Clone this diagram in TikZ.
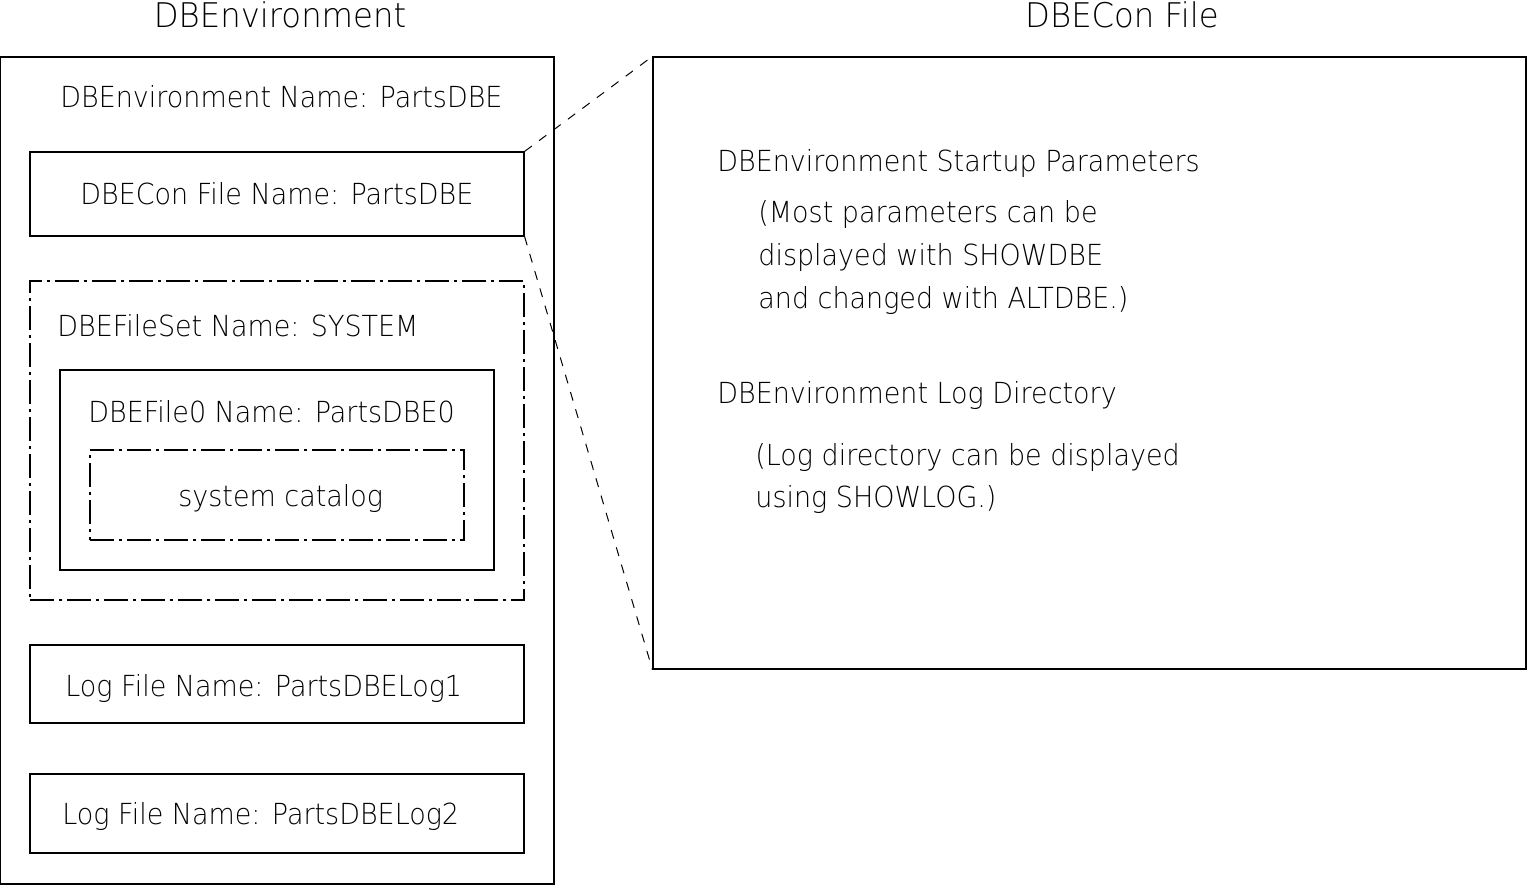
\documentclass[tikz,border=0pt]{standalone}
\usepackage{fontspec}
\newfontfamily\thinfont[FakeStretch=0.93]{DejaVu Sans ExtraLight}
\newfontfamily\titlefont[FakeStretch=0.95]{DejaVu Sans ExtraLight}
\begin{document}
\begin{tikzpicture}[x=0.5pt,y=-0.5pt,
  box/.style={draw=black,line width=0.6pt,inner sep=0pt},
  dashdot/.style={draw=black,line width=0.6pt,inner sep=0pt,dash pattern=on 12pt off 2.5pt on 1.5pt off 2.5pt},
  link/.style={draw=black,line width=0.5pt,dash pattern=on 4.5pt off 4.5pt},
  txt/.style={anchor=base west,inner sep=0pt,font=\thinfont\fontsize{14.5pt}{17pt}\selectfont},
  title/.style={anchor=base,inner sep=0pt,font=\titlefont\fontsize{17pt}{20pt}\selectfont}]
\useasboundingbox (0,0) rectangle (1528,885);
% titles
\node[title] (t1) at (280,27) {DBEnvironment};
\node[title] (t2) at (1122,27) {DBECon File};
% left side
\node[box,minimum width=276.75pt,minimum height=413.5pt] (outer) at (277.25,470.5) {};
\node[txt] (envname) at (60,107) {DBEnvironment Name: PartsDBE};
\node[box,minimum width=247pt,minimum height=42pt] (dbecon) at (277,194) {};
\node[txt] (dbeconname) at (80,204) {DBECon File Name: PartsDBE};
\node[dashdot,minimum width=247pt,minimum height=159.5pt] (fileset) at (277,440.5) {};
\node[txt] (filesetname) at (57,336) {DBEFileSet Name: SYSTEM};
\node[box,minimum width=217pt,minimum height=100pt] (file0) at (277,470) {};
\node[txt] (file0name) at (88,422) {DBEFile0 Name: PartsDBE0};
\node[dashdot,minimum width=187pt,minimum height=45pt] (catalog) at (277,495) {};
\node[txt] (catalogname) at (178,506) {system catalog};
\node[box,minimum width=247pt,minimum height=39pt] (log1) at (277,684) {};
\node[txt] (log1name) at (65,696) {Log File Name: PartsDBELog1};
\node[box,minimum width=247pt,minimum height=39.5pt] (log2) at (277,813.5) {};
\node[txt] (log2name) at (62,824) {Log File Name: PartsDBELog2};
% right side
\node[box,minimum width=436.5pt,minimum height=306pt] (confile) at (1089.5,363) {};
\node[txt] (p1) at (717,171) {DBEnvironment Startup Parameters};
\node[txt] (p2) at (758,222) {(Most parameters can be};
\node[txt] (p3) at (758,265) {displayed with SHOWDBE};
\node[txt] (p4) at (758,308) {and changed with ALTDBE.)};
\node[txt] (p5) at (717,403) {DBEnvironment Log Directory};
\node[txt] (p6) at (755,465) {(Log directory can be displayed};
\node[txt] (p7) at (755,507) {using SHOWLOG.)};
% connectors
\draw[link] (dbecon.north east) -- (confile.north west);
\draw[link] (dbecon.south east) -- (confile.south west);
\end{tikzpicture}
\end{document}
